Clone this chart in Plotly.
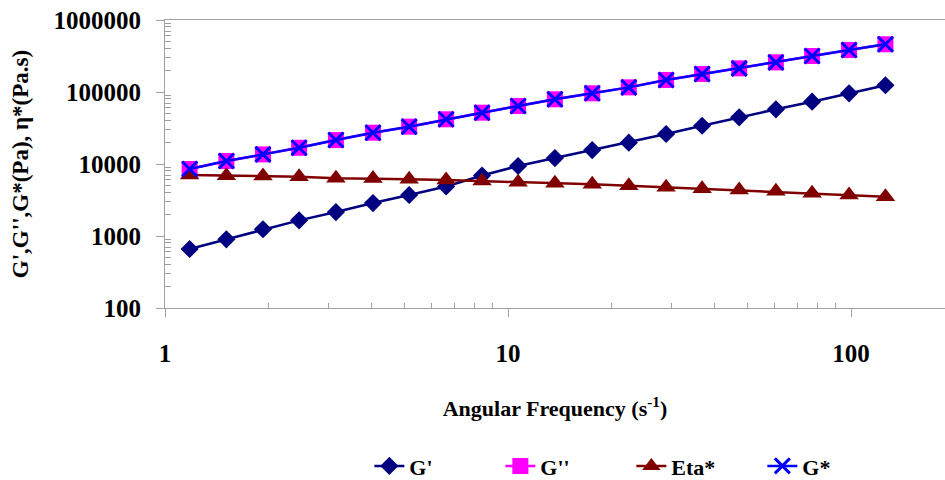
import plotly.graph_objects as go

freq = [1.18, 1.51, 1.93, 2.46, 3.15, 4.04, 5.15, 6.60, 8.40, 10.7,
        13.7, 17.6, 22.5, 28.9, 36.8, 47.2, 60.4, 77.0, 98.7, 126.0]
g_storage = [660, 900, 1240, 1650, 2150, 2870, 3710, 4870, 6920, 9380,
             12100, 15600, 19800, 26100, 34000, 44500, 57500, 73300, 95900, 124000]
g_loss = [8530, 11000, 13600, 16800, 21500, 27200, 33000, 41800, 51600, 63900,
          79200, 95900, 116000, 147000, 178000, 213000, 258000, 316000, 383000, 460000]
eta_star = [7030, 6880, 6810, 6660, 6330, 6300, 6140, 5990, 5810, 5570,
            5390, 5220, 5000, 4750, 4540, 4350, 4180, 3920, 3710, 3510]
g_complex = [8530, 11000, 13600, 16800, 21500, 27200, 33000, 41800, 51600, 63900,
             79200, 95900, 116000, 147000, 178000, 213000, 258000, 316000, 383000, 460000]

x_tickvals = [1, 10, 100]
x_ticktext = ["1", "10", "100"]
y_tickvals = [100, 1000, 10000, 100000, 1000000]
y_ticktext = ["100", "1000", "10000", "100000", "1000000"]

FONT = "Liberation Serif"
X_RANGE = [0, 2.274]
Y_RANGE = [2, 6]

x_minor = [m * d for d in (1, 10, 100) for m in range(2, 10)]
y_minor = [m * d for d in (100, 1000, 10000, 100000) for m in range(2, 10)]

fig = go.Figure()
fig.add_trace(go.Scatter(x=freq, y=g_storage, name="G'", mode="lines+markers",
                         line=dict(color="#000080", width=2.5),
                         marker=dict(symbol="diamond", size=14, color="#000080")))
fig.add_trace(go.Scatter(x=freq, y=g_loss, name="G''", mode="lines+markers",
                         line=dict(color="#FF00FF", width=2.5),
                         marker=dict(symbol="square", size=16, color="#FF00FF")))
fig.add_trace(go.Scatter(x=freq, y=eta_star, name="Eta*", mode="lines+markers",
                         line=dict(color="#800000", width=2.5),
                         marker=dict(symbol="triangle-up", size=17, color="#800000")))
fig.add_trace(go.Scatter(x=freq, y=g_complex, name="G*", mode="lines+markers",
                         line=dict(color="#0000FF", width=2.5),
                         marker=dict(symbol="x-thin", size=15, color="#0000FF",
                                     line=dict(color="#0000FF", width=3))))
# invisible helper trace so the overlay axes (minor ticks) get drawn
fig.add_trace(go.Scatter(x=freq, y=g_storage, xaxis="x2", yaxis="y2", mode="markers",
                         marker=dict(opacity=0), showlegend=False, hoverinfo="skip"))

axis_font = dict(family=FONT, size=25, color="black", weight="bold")

fig.update_layout(
    width=945, height=480, autosize=False,
    margin=dict(l=165, r=0, t=20, b=172, autoexpand=False),
    paper_bgcolor="white", plot_bgcolor="white",
    font=dict(family=FONT, color="black"),
    xaxis=dict(
        type="log", range=X_RANGE, automargin=False,
        showline=True, linecolor="#a0a0a0", linewidth=1, mirror=True,
        showgrid=False, zeroline=False,
        tickmode="array", tickvals=x_tickvals, ticktext=x_ticktext,
        ticks="outside", ticklen=8, tickcolor="#a0a0a0",
        tickfont=axis_font, ticklabelstandoff=15,
        title=dict(text="Angular Frequency (s<sup>-1</sup>)",
                   font=dict(family=FONT, size=22, color="black", weight="bold"),
                   standoff=34),
    ),
    yaxis=dict(
        type="log", range=Y_RANGE, automargin=False,
        showline=True, linecolor="#a0a0a0", linewidth=1,
        showgrid=False, zeroline=False,
        tickmode="array", tickvals=y_tickvals, ticktext=y_ticktext,
        ticks="outside", ticklen=8, tickcolor="#a0a0a0",
        tickfont=axis_font, ticklabelstandoff=10,
        title=dict(text="G',G'',G*(Pa), η*(Pa.s)",
                   font=dict(family=FONT, size=23, color="black", weight="bold"),
                   standoff=18),
    ),
    xaxis2=dict(
        type="log", range=X_RANGE, overlaying="x", anchor="y2", side="bottom",
        automargin=False, showline=False, showgrid=False, zeroline=False,
        tickmode="array", tickvals=x_minor, showticklabels=False,
        ticks="inside", ticklen=5, tickcolor="#a0a0a0",
    ),
    yaxis2=dict(
        type="log", range=Y_RANGE, overlaying="y", anchor="x2", side="left",
        automargin=False, showline=False, showgrid=False, zeroline=False,
        tickmode="array", tickvals=y_minor, showticklabels=False,
        ticks="inside", ticklen=6, tickcolor="#a0a0a0",
    ),
    legend=dict(
        orientation="h", x=0.262, xanchor="left", y=-0.549, yanchor="middle",
        entrywidth=86, entrywidthmode="pixels",
        font=dict(family=FONT, size=22, color="black", weight="bold"),
        bgcolor="rgba(0,0,0,0)",
    ),
    showlegend=True,
)

fig.write_html("out.html", config={"displayModeBar": False},
               post_script="document.body.style.margin='0px';document.body.style.padding='0px';")
